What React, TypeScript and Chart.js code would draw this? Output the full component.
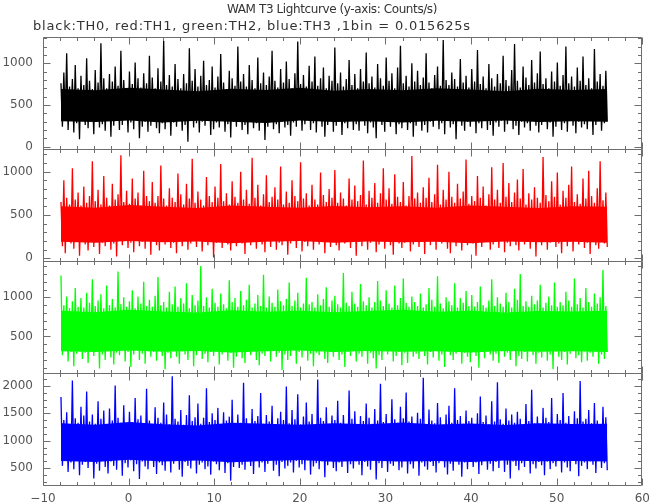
import React, { useEffect, useRef } from 'react';
import { Chart, registerables } from 'chart.js';

Chart.register(...registerables);

// ---- text ----
const TITLE = 'WAM T3 Lightcurve (y-axis: Counts/s)';
const SUBTITLE = 'black:TH0, red:TH1, green:TH2, blue:TH3 ,1bin = 0.015625s';

// ---- time axis ----
const X_MIN = -10;
const X_MAX = 60;
const X_MINOR_STEP = 2;
const X_MAJOR_STEP = 10;
const TIME_START = -7.9; // s, first bin shown
const TIME_END = 55.9; // s, last bin shown

// ---- count rates (counts/s) per plotted bin ----
const TH0 = [
  760, 240, 890, 310, 1120, 200, 720, 350, 810, 170, 980, 280, 700, 90, 850, 330,
  740, 260, 1060, 220, 790, 380, 690, 150, 920, 300, 770, 230, 1240, 270, 820, 190,
  700, 340, 870, 120, 780, 250, 960, 310, 730, 200, 1150, 260, 800, 360, 690, 170,
  900, 290, 750, 210, 1010, 330, 820, 100, 710, 240, 880, 300, 760, 180, 1090, 250,
  830, 370, 700, 220, 940, 160, 780, 280, 1270, 210, 740, 320, 860, 130, 720, 290,
  990, 240, 810, 350, 700, 190, 870, 260, 760, 60, 1180, 310, 790, 230, 930, 280,
  720, 170, 850, 300, 1030, 250, 740, 340, 800, 140, 960, 210, 710, 290, 840, 230,
  1110, 320, 770, 180, 690, 270, 910, 110, 820, 300, 730, 240, 1200, 360, 780, 200,
  870, 260, 720, 150, 980, 330, 800, 220, 700, 280, 1070, 190, 760, 310, 890, 80,
  740, 240, 840, 350, 1150, 210, 790, 270, 710, 160, 930, 300, 770, 230, 1020, 260,
  810, 130, 700, 290, 880, 240, 1260, 320, 750, 190, 860, 270, 720, 350, 970, 200,
  780, 280, 1080, 170, 730, 310, 820, 240, 950, 120, 700, 260, 850, 330, 790, 180,
  1190, 250, 760, 300, 890, 140, 720, 280, 810, 220, 1040, 340, 740, 200, 870, 270,
  700, 190, 930, 320, 780, 250, 1130, 160, 760, 290, 840, 230, 710, 100, 990, 310,
  820, 260, 730, 180, 1070, 300, 790, 240, 880, 350, 700, 150, 950, 270, 1210, 220,
  760, 330, 850, 200, 720, 280, 1000, 120, 780, 250, 910, 310, 740, 190, 830, 260,
  1120, 170, 770, 300, 700, 240, 860, 340, 960, 210, 730, 280, 1280, 150, 800, 320,
  740, 230, 890, 270, 810, 90, 720, 310, 1050, 250, 770, 190, 850, 300, 710, 240,
  930, 350, 780, 160, 1160, 280, 750, 220, 840, 330, 700, 200, 990, 260, 820, 130,
  720, 290, 870, 240, 760, 310, 1090, 180, 800, 270, 730, 340, 920, 210, 1230, 250,
  790, 140, 710, 300, 960, 230, 830, 280, 740, 190, 1040, 320, 770, 250, 880, 170,
  1140, 260, 750, 330, 820, 210, 700, 290, 900, 120, 780, 240, 1010, 310, 730, 200,
  860, 280, 1200, 180, 760, 340, 840, 250, 720, 160, 950, 300, 790, 230, 1080, 270,
  740, 210, 820, 310, 700, 140, 1170, 260, 780, 330, 870, 190, 730, 280, 910, 300,
];

const TH1 = [
  650, 140, 900, 60, 700, 210, 620, 170, 1040, 110, 680, 240, 760, 30, 610, 190,
  830, 160, 640, 90, 720, 220, 1120, 130, 660, 200, 790, 50, 620, 180, 950, 140,
  700, 230, 610, 100, 860, 170, 680, 20, 740, 210, 1190, 150, 650, 250, 780, 120,
  630, 180, 920, 70, 690, 230, 760, 140, 610, 190, 1010, 110, 720, 240, 660, 40,
  880, 200, 640, 150, 720, 90, 1070, 220, 690, 160, 610, 250, 810, 120, 700, 180,
  650, 60, 980, 210, 740, 140, 620, 230, 860, 100, 690, 170, 1150, 200, 640, 130,
  770, 240, 680, 80, 610, 190, 940, 150, 720, 220, 650, 10, 830, 180, 700, 230,
  1090, 120, 660, 200, 750, 160, 620, 90, 890, 240, 710, 140, 640, 210, 1000, 170,
  680, 50, 790, 230, 630, 150, 1160, 190, 700, 110, 850, 220, 610, 160, 740, 70,
  960, 200, 650, 130, 710, 240, 820, 100, 680, 180, 1060, 150, 620, 220, 770, 40,
  640, 170, 900, 210, 720, 120, 660, 230, 1110, 80, 690, 190, 750, 140, 610, 250,
  850, 100, 680, 220, 620, 160, 990, 190, 730, 60, 650, 240, 800, 130, 700, 200,
  1020, 150, 640, 90, 760, 230, 690, 170, 610, 210, 920, 120, 680, 250, 840, 30,
  660, 190, 730, 140, 1130, 220, 620, 100, 780, 180, 700, 240, 870, 70, 640, 160,
  750, 230, 1040, 110, 680, 200, 810, 150, 630, 40, 970, 210, 710, 170, 650, 120,
  880, 180, 610, 240, 720, 80, 1180, 160, 690, 220, 760, 130, 640, 190, 820, 50,
  700, 210, 930, 150, 650, 230, 740, 100, 1080, 190, 620, 170, 790, 240, 680, 110,
  1000, 60, 710, 200, 640, 140, 860, 220, 690, 90, 770, 180, 1140, 150, 630, 240,
  720, 170, 660, 30, 950, 210, 700, 130, 830, 190, 610, 250, 740, 100, 1050, 160,
  680, 230, 790, 120, 640, 200, 1100, 70, 710, 180, 870, 140, 650, 220, 760, 150,
  910, 90, 690, 240, 1030, 160, 620, 190, 750, 110, 680, 230, 820, 20, 700, 200,
  640, 150, 1170, 210, 730, 100, 660, 180, 890, 240, 710, 130, 990, 170, 620, 60,
  780, 220, 700, 140, 850, 190, 1060, 80, 650, 230, 740, 160, 630, 200, 920, 120,
  690, 180, 1010, 50, 720, 240, 640, 150, 810, 110, 1120, 210, 670, 170, 760, 130,
];

const TH2 = [
  1280, 260, 900, 330, 1010, 180, 860, 300, 950, 120, 1120, 280, 880, 350, 990, 210,
  870, 290, 1060, 160, 930, 340, 1230, 250, 890, 310, 960, 90, 1040, 270, 860, 200,
  1150, 320, 900, 230, 980, 140, 870, 290, 1330, 260, 910, 350, 1000, 180, 880, 300,
  950, 110, 1090, 270, 860, 330, 1010, 200, 920, 280, 1200, 150, 890, 310, 970, 240,
  880, 300, 1020, 190, 1260, 340, 900, 250, 940, 80, 870, 290, 1070, 220, 910, 320,
  1140, 240, 880, 150, 990, 310, 920, 270, 1180, 200, 860, 340, 1030, 120, 900, 260,
  960, 330, 1400, 210, 890, 280, 1000, 170, 870, 300, 1110, 250, 930, 350, 880, 140,
  1050, 270, 910, 320, 860, 190, 1220, 290, 940, 100, 990, 240, 880, 310, 1080, 220,
  900, 160, 970, 300, 1160, 260, 870, 340, 920, 200, 1030, 130, 890, 280, 1290, 250,
  870, 310, 1010, 180, 930, 330, 880, 240, 1100, 290, 950, 70, 900, 270, 980, 200,
  1190, 250, 890, 350, 960, 150, 1060, 300, 870, 230, 920, 320, 1250, 190, 910, 280,
  940, 120, 870, 290, 1040, 260, 900, 340, 980, 210, 1130, 160, 880, 300, 960, 240,
  1020, 330, 910, 200, 870, 270, 1310, 110, 930, 310, 890, 250, 1070, 340, 920, 180,
  880, 280, 1170, 240, 950, 320, 900, 150, 1000, 290, 870, 220, 940, 90, 1210, 260,
  960, 200, 890, 310, 1090, 270, 920, 340, 870, 180, 1150, 250, 900, 300, 990, 130,
  1240, 290, 930, 160, 880, 330, 1010, 240, 940, 280, 890, 210, 1050, 320, 870, 250,
  910, 140, 1120, 300, 970, 230, 880, 350, 1270, 190, 920, 270, 860, 110, 1000, 310,
  950, 260, 900, 200, 1180, 280, 870, 330, 990, 150, 930, 290, 1080, 240, 890, 170,
  1030, 320, 880, 250, 940, 100, 1140, 300, 900, 220, 870, 340, 960, 270, 1230, 190,
  890, 280, 1000, 160, 920, 310, 880, 240, 1060, 290, 940, 200, 870, 330, 1110, 120,
  970, 250, 1300, 210, 890, 300, 950, 180, 880, 340, 1020, 260, 910, 150, 960, 290,
  1160, 230, 870, 320, 930, 190, 1010, 270, 900, 80, 1190, 310, 880, 240, 940, 200,
  900, 300, 1070, 140, 960, 280, 880, 350, 1240, 220, 910, 260, 990, 170, 870, 310,
  1120, 190, 940, 290, 880, 240, 1050, 320, 920, 150, 1000, 270, 1350, 210, 890, 300,
];

const TH3 = [
  1800, 540, 1380, 650, 1520, 430, 1290, 600, 2100, 480, 1410, 700, 1330, 370, 1620, 560,
  1460, 610, 1900, 500, 1350, 660, 1480, 310, 1310, 580, 1720, 450, 1400, 640, 1550, 520,
  1300, 400, 1590, 620, 1370, 540, 2010, 470, 1420, 690, 1330, 360, 1650, 590, 1290, 510,
  1530, 640, 1340, 440, 1780, 570, 1390, 300, 1460, 620, 1310, 530, 1950, 480, 1370, 660,
  1290, 520, 1610, 390, 1420, 600, 1330, 550, 1700, 450, 1480, 680, 1300, 420, 2180, 580,
  1400, 630, 1350, 470, 1560, 340, 1290, 610, 1470, 540, 1830, 490, 1360, 650, 1430, 400,
  1680, 560, 1310, 600, 1420, 480, 1960, 530, 1340, 380, 1500, 620, 1380, 570, 1600, 460,
  1300, 650, 1520, 410, 1370, 590, 1440, 270, 1750, 520, 1320, 640, 1480, 500, 1330, 560,
  2060, 470, 1410, 620, 1290, 540, 1580, 390, 1360, 680, 1450, 510, 1870, 600, 1310, 430,
  1470, 580, 1350, 660, 1640, 450, 1300, 560, 1410, 350, 1530, 610, 1380, 490, 1990, 540,
  1320, 600, 1560, 420, 1390, 630, 1850, 510, 1300, 570, 1440, 460, 1700, 640, 1350, 380,
  1490, 530, 1290, 590, 2120, 480, 1420, 620, 1360, 330, 1610, 550, 1310, 670, 1460, 500,
  1380, 440, 1730, 600, 1330, 520, 1470, 650, 1300, 410, 1920, 570, 1400, 490, 1540, 620,
  1290, 560, 1450, 370, 1360, 610, 1680, 530, 1420, 470, 1310, 640, 1580, 290, 1370, 590,
  2040, 500, 1340, 660, 1490, 430, 1300, 580, 1760, 540, 1390, 620, 1330, 460, 1620, 510,
  1410, 630, 1880, 400, 1350, 570, 1440, 490, 1290, 650, 1510, 360, 1400, 600, 2150, 530,
  1300, 470, 1570, 610, 1370, 540, 1320, 420, 1690, 590, 1430, 660, 1290, 510, 1480, 380,
  1640, 580, 1330, 450, 1960, 620, 1380, 560, 1450, 340, 1310, 600, 1550, 480, 1360, 640,
  1420, 520, 1290, 600, 1500, 390, 1810, 550, 1340, 630, 1460, 470, 1300, 580, 1720, 440,
  1350, 610, 2070, 500, 1390, 660, 1310, 430, 1590, 560, 1370, 310, 1480, 620, 1330, 540,
  1530, 460, 1400, 590, 1290, 520, 1670, 640, 1360, 400, 1930, 570, 1320, 490, 1440, 610,
  1310, 550, 1600, 370, 1420, 620, 1340, 480, 1780, 590, 1300, 530, 1490, 650, 1380, 420,
  1870, 600, 1330, 510, 1450, 440, 1290, 630, 1540, 570, 1410, 350, 2090, 540, 1350, 600,
  1400, 480, 1560, 620, 1320, 560, 1690, 410, 1370, 640, 1300, 500, 1620, 590, 1430, 460,
];

// ---- dense core of each curve (bulk of the 0.015625 s samples), per 4 s ----
const TH0_CORE_HI = [690, 675, 705, 685, 665, 695, 680, 705, 670, 690, 675, 700, 685, 665, 695, 680, 690];
const TH0_CORE_LO = [305, 295, 315, 290, 310, 300, 285, 315, 295, 305, 290, 310, 300, 315, 295, 305, 300];
const TH1_CORE_HI = [600, 585, 615, 595, 580, 610, 595, 585, 605, 590, 600, 585, 610, 595, 580, 600, 595];
const TH1_CORE_LO = [190, 180, 200, 185, 195, 175, 190, 200, 180, 195, 185, 190, 175, 195, 185, 190, 180];
const TH2_CORE_HI = [830, 810, 840, 820, 805, 835, 815, 830, 810, 825, 840, 815, 830, 805, 825, 820, 830];
const TH2_CORE_LO = [310, 300, 320, 305, 315, 295, 310, 320, 300, 315, 305, 310, 295, 315, 305, 310, 300];
const TH3_CORE_HI = [1320, 1290, 1340, 1300, 1280, 1330, 1310, 1290, 1320, 1300, 1335, 1295, 1315, 1285, 1320, 1305, 1310];
const TH3_CORE_LO = [630, 610, 650, 620, 640, 605, 630, 645, 615, 635, 620, 630, 610, 640, 625, 630, 620];

// ---- panel axis settings ----
const PANELS = [
  { id: 'y0', label: 'TH0', data: TH0, hi: TH0_CORE_HI, lo: TH0_CORE_LO, rgb: '0,0,0', min: -28, max: 1315, minor: 100, major: 500, weight: 4 },
  { id: 'y1', label: 'TH1', data: TH1, hi: TH1_CORE_HI, lo: TH1_CORE_LO, rgb: '255,0,0', min: -31, max: 1262, minor: 100, major: 500, weight: 3 },
  { id: 'y2', label: 'TH2', data: TH2, hi: TH2_CORE_HI, lo: TH2_CORE_LO, rgb: '0,255,0', min: 32, max: 1465, minor: 100, major: 500, weight: 2 },
  { id: 'y3', label: 'TH3', data: TH3, hi: TH3_CORE_HI, lo: TH3_CORE_LO, rgb: '0,0,255', min: 190, max: 2238, minor: 125, major: 500, weight: 1 },
];

const FRAME_COLOR = '#6e6e6e';
const TEXT_COLOR = '#555555';
const FONT_FAMILY = '"DejaVu Sans", "Liberation Sans", sans-serif';

const fmt = (v: number) => (v < 0 ? '\u2212' + Math.abs(v) : String(v));

const tickList = (min: number, max: number, step: number) => {
  const out: { value: number }[] = [];
  for (let v = Math.ceil(min / step) * step; v <= max + 1e-9; v += step) out.push({ value: v });
  return out;
};

const toSeries = (vals: number[]) =>
  vals.map((v, i) => ({ x: TIME_START + (i * (TIME_END - TIME_START)) / (vals.length - 1), y: v }));

const framePlugin = {
  id: 'panelFrames',
  afterDatasetsDraw(chart: any) {
    const ctx = chart.ctx;
    const { left, right } = chart.chartArea;
    const xs = chart.scales.x;
    const L = Math.round(left) + 0.5;
    const R = Math.round(right) - 0.5;
    ctx.save();
    ctx.strokeStyle = FRAME_COLOR;
    ctx.lineWidth = 1;
    PANELS.forEach((p) => {
      const ys = chart.scales[p.id];
      const top = Math.round(ys.top) + 0.5;
      const bottom = Math.round(ys.bottom) + 0.5;
      ctx.beginPath();
      ctx.rect(L, top, R - L, bottom - top);
      for (const t of ys.ticks) {
        const y = Math.round(ys.getPixelForValue(t.value)) + 0.5;
        const len = t.value % p.major === 0 ? 7 : 3.5;
        ctx.moveTo(L, y);
        ctx.lineTo(L + len, y);
        ctx.moveTo(R, y);
        ctx.lineTo(R - len, y);
      }
      for (const t of xs.ticks) {
        const x = Math.round(xs.getPixelForValue(t.value)) + 0.5;
        const len = t.value % X_MAJOR_STEP === 0 ? 7 : 3.5;
        ctx.moveTo(x, top);
        ctx.lineTo(x, top + len);
        ctx.moveTo(x, bottom);
        ctx.lineTo(x, bottom - len);
      }
      ctx.stroke();
    });
    ctx.restore();
  },
  afterDraw(chart: any) {
    const ctx = chart.ctx;
    ctx.save();
    ctx.fillStyle = '#333333';
    ctx.textBaseline = 'middle';
    ctx.font = `12px ${FONT_FAMILY}`;
    (ctx as any).letterSpacing = '-0.4px';
    ctx.textAlign = 'center';
    ctx.fillText(TITLE, 332, 10);
    ctx.font = `13px ${FONT_FAMILY}`;
    (ctx as any).letterSpacing = '0.8px';
    ctx.textAlign = 'left';
    ctx.fillText(SUBTITLE, 33, 27);
    ctx.restore();
  },
};

export default function App() {
  const ref = useRef<HTMLCanvasElement | null>(null);

  useEffect(() => {
    if (!ref.current) return;
    const scales: any = {
      x: {
        type: 'linear',
        position: 'bottom',
        min: X_MIN,
        max: X_MAX,
        grid: { display: false, drawTicks: false },
        border: { display: false },
        afterBuildTicks: (s: any) => {
          s.ticks = tickList(X_MIN, X_MAX, X_MINOR_STEP);
        },
        ticks: {
          autoSkip: false,
          maxRotation: 0,
          padding: 7,
          color: TEXT_COLOR,
          font: { family: FONT_FAMILY, size: 12 },
          callback: (v: any) => (v % X_MAJOR_STEP === 0 ? fmt(v) : ''),
        },
        afterFit: (s: any) => {
          s.height = 19;
        },
      },
    };
    PANELS.forEach((p) => {
      scales[p.id] = {
        type: 'linear',
        position: 'left',
        stack: 'panels',
        stackWeight: 1,
        weight: p.weight,
        min: p.min,
        max: p.max,
        grid: { display: false, drawTicks: false },
        border: { display: false },
        afterBuildTicks: (s: any) => {
          s.ticks = tickList(p.min, p.max, p.minor);
        },
        ticks: {
          autoSkip: false,
          padding: 10,
          color: TEXT_COLOR,
          font: { family: FONT_FAMILY, size: 12 },
          callback: (v: any) => (v % p.major === 0 ? fmt(v) : ''),
        },
        afterFit: (s: any) => {
          s.width = 43;
        },
      };
    });

    const datasets: any[] = [];
    PANELS.forEach((p) => {
      datasets.push({
        label: `${p.label} core high`,
        xAxisID: 'x',
        yAxisID: p.id,
        data: toSeries(p.hi),
        borderWidth: 0,
        borderColor: 'rgba(0,0,0,0)',
        backgroundColor: `rgb(${p.rgb})`,
        pointRadius: 0,
        fill: '+1',
      });
      datasets.push({
        label: `${p.label} core low`,
        xAxisID: 'x',
        yAxisID: p.id,
        data: toSeries(p.lo),
        borderWidth: 0,
        borderColor: 'rgba(0,0,0,0)',
        pointRadius: 0,
        fill: false,
      });
      datasets.push({
        label: p.label,
        xAxisID: 'x',
        yAxisID: p.id,
        data: toSeries(p.data),
        borderColor: `rgb(${p.rgb})`,
        borderWidth: 1.3,
        pointRadius: 0,
        tension: 0,
        fill: false,
      });
    });

    const chart = new Chart(ref.current, {
      type: 'line',
      data: { datasets },
      options: {
        responsive: false,
        animation: false,
        events: [],
        layout: { padding: { top: 37, right: 9, left: 0, bottom: 0 } },
        plugins: {
          legend: { display: false },
          tooltip: { enabled: false },
          title: { display: false },
        },
        scales,
      },
      plugins: [framePlugin],
    });
    return () => chart.destroy();
  }, []);

  return (
    <div style={{ position: 'absolute', left: 0, top: 0, width: 657, height: 504, background: '#fff' }}>
      <canvas ref={ref} width={657} height={504} style={{ width: 657, height: 504, display: 'block' }} />
    </div>
  );
}
